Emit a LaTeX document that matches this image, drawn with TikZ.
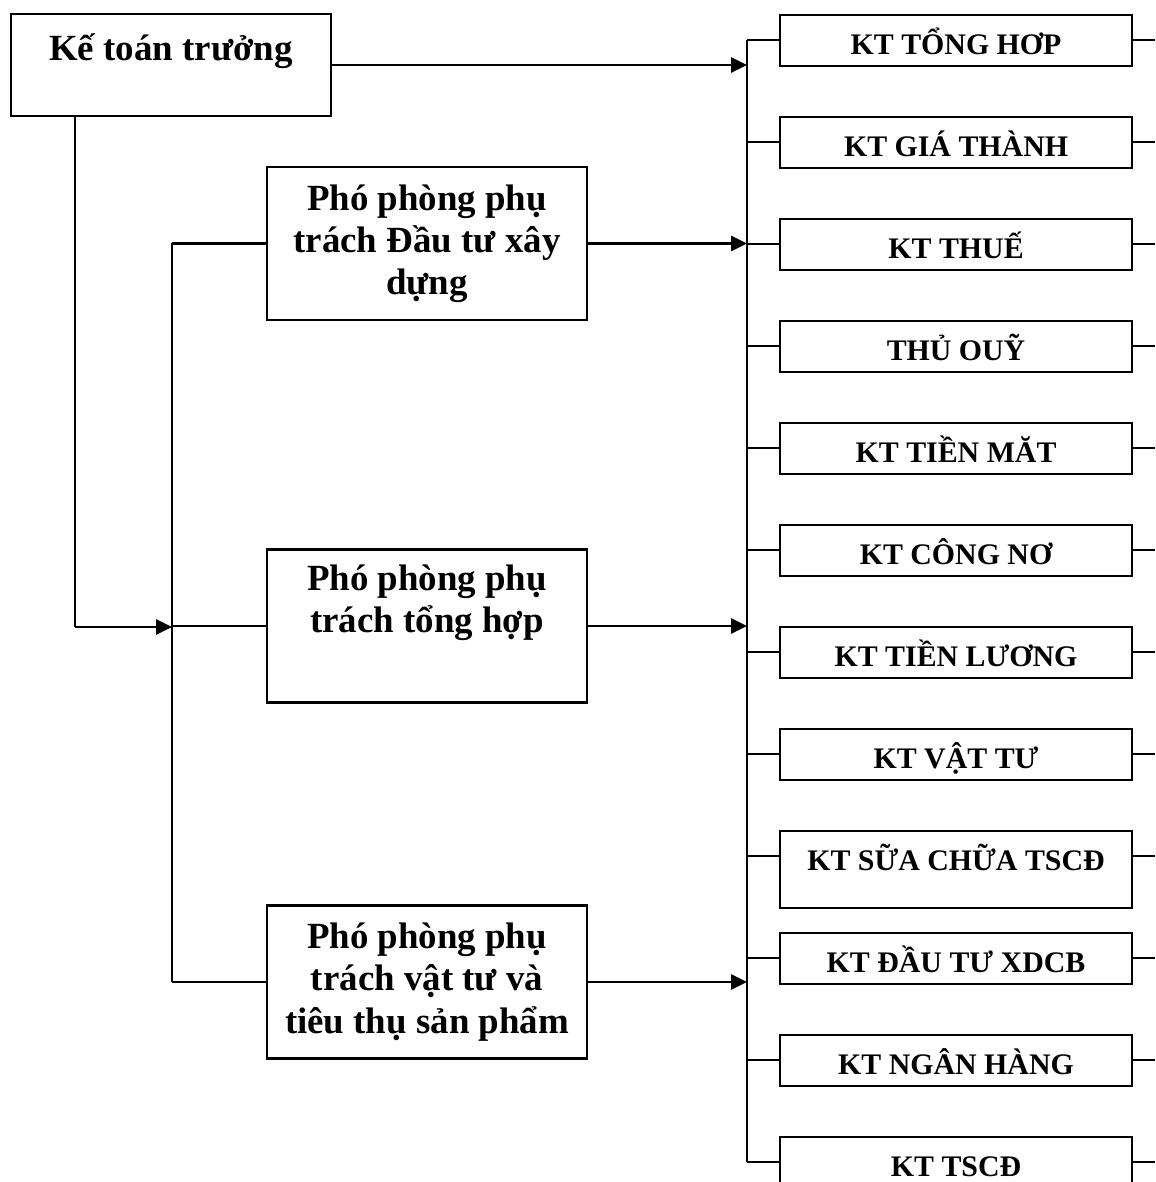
\documentclass[tikz,border=0pt]{standalone}
\usepackage{fontspec}
\setmainfont{Liberation Serif}
\usetikzlibrary{positioning}
\usetikzlibrary{arrows.meta}
\tikzset{
    headbox/.style = {rectangle, draw=black, line width=1.2pt, inner sep=0pt, minimum width=6.4cm, text height=26.7pt, text depth=31.3pt, font=\fontsize{21}{24}\selectfont\bfseries},
    deputybox/.style = {rectangle, draw=black, line width=1.2pt, minimum width=6.4cm, minimum height=3.06cm, align=center, font=\fontsize{21}{24}\selectfont\bfseries},
    ktbox/.style = {rectangle, draw=black, line width=1.2pt, inner sep=0pt, anchor=north west, minimum width=7.04cm, text height=22.2pt, text depth=6.8pt, font=\fontsize{17}{20}\selectfont\bfseries},
    edgen/.style = {-{Triangle[length=9pt,width=8.5pt]}, line width=1.3pt},
    linen/.style = {line width=1.3pt},
}

\begin{document}
\begin{tikzpicture}[x=0.02cm, y=-0.02cm]
  \useasboundingbox (0,0) rectangle (1155,1182);

  \node[headbox] (ktt) at (171,65) {Kế toán trưởng};

  \node[deputybox] (pp1) at (427,243.5) {Phó phòng phụ\\trách Đầu tư xây\\dựng};
  \node[deputybox] (pp2) at (427,626) {Phó phòng phụ\\trách tổng hợp\\\strut};
  \node[deputybox] (pp3) at (427,982) {Phó phòng phụ\\trách vật tư và\\tiêu thụ sản phẩm};

  \node[ktbox] (kt1) at (779,14) {KT TỔNG HƠP};
  \node[ktbox] (kt2) at (779,116) {KT GIÁ THÀNH};
  \node[ktbox] (kt3) at (779,218) {KT THUẾ};
  \node[ktbox] (kt4) at (779,320) {THỦ OUỸ};
  \node[ktbox] (kt5) at (779,422) {KT TIỀN MĂT};
  \node[ktbox] (kt6) at (779,524) {KT CÔNG NƠ};
  \node[ktbox] (kt7) at (779,626) {KT TIỀN LƯƠNG};
  \node[ktbox] (kt8) at (779,728) {KT VẬT TƯ};
  \node[ktbox, text depth=21.4pt] (kt9) at (779,830) {KT SỮA CHỮA TSCĐ};
  \node[ktbox] (kt10) at (779,932) {KT ĐẦU TƯ XDCB};
  \node[ktbox] (kt11) at (779,1034) {KT NGÂN HÀNG};
  \node[ktbox] (kt12) at (779,1136) {KT TSCĐ};

  \coordinate (lbend) at (75,627);
  \coordinate (lbus) at (172,627);
  \coordinate (rbus) at (747,0);
  \coordinate (redge) at (1155,0);

  % head to the two buses
  \draw[edgen] (ktt.east) -- (ktt.east -| rbus);
  \draw[linen] (ktt.south -| lbend) -- (lbend);
  \draw[edgen] (lbend) -- (lbus);
  \draw[linen] (pp1.west -| lbus) -- (pp3.west -| lbus);
  \foreach \n in {pp1,pp2,pp3} {
    \draw[linen] (\n.west -| lbus) -- (\n.west);
    \draw[edgen] (\n.east) -- (\n.east -| rbus);
  }

  % right column
  \foreach \i in {1,...,12} {
    \path ([yshift=-0.52cm]kt\i.north west) coordinate (s\i);
    \draw[linen] (s\i -| rbus) -- (s\i);
    \draw[linen] (s\i -| kt\i.east) -- (s\i -| redge);
  }
  \draw[linen] (s1 -| rbus) -- (s12 -| rbus);
\end{tikzpicture}
\end{document}
